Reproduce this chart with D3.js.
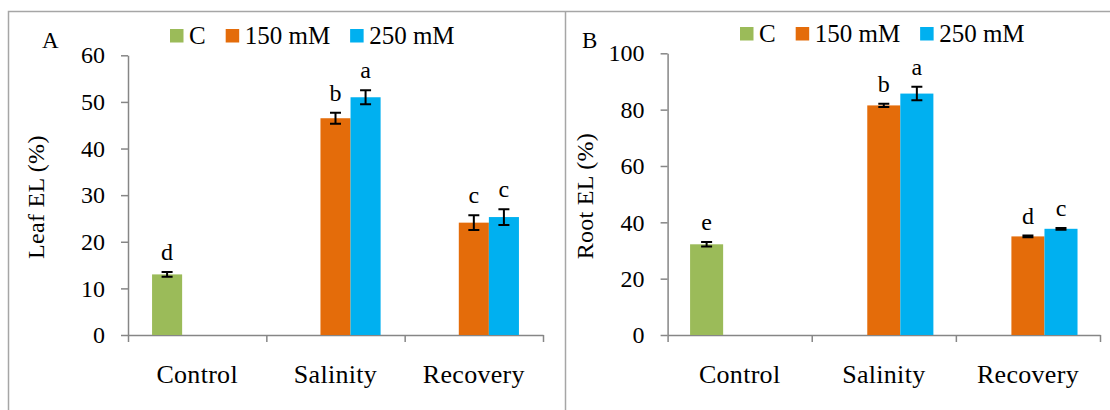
<!DOCTYPE html>
<html>
<head>
<meta charset="utf-8">
<script src="https://d3js.org/d3.v7.min.js"></script>
<style>
    body { margin: 0; background: #fff; }
    svg { display: block; }
    text { font-family: "Liberation Serif", "Times New Roman", serif; fill: #000; }
    .axis path, .axis line { stroke: #868686; stroke-width: 1.5; }
    .axis text { font-size: 24px; }
</style>
</head>
<body>
<div id="chart"></div>
<script>
const categories = ["Control", "Salinity", "Recovery"];
const series = ["C", "150 mM", "250 mM"];
const colors = ["#9BBB59", "#E46C0A", "#00B0F0"];

// rows = categories, columns = series (null = no bar)
const leafValues = [[13.0, null, null], [null, 46.5, 51.0], [null, 24.1, 25.3]];
const leafErrors = [[0.5, null, null], [null, 1.2, 1.5], [null, 1.6, 1.7]];
const leafLetters = [["d", null, null], [null, "b", "a"], [null, "c", "c"]];
const leafTicks = [0, 10, 20, 30, 40, 50, 60];

const rootValues = [[32.2, null, null], [null, 81.5, 85.7], [null, 35.0, 37.7]];
const rootErrors = [[0.8, null, null], [null, 0.6, 2.4], [null, 0.3, 0.3]];
const rootLetters = [["e", null, null], [null, "b", "a"], [null, "d", "c"]];
const rootTicks = [0, 20, 40, 60, 80, 100];

const width = 1110, height = 410;

const svg = d3.select("#chart").append("svg")
    .attr("width", width)
    .attr("height", height);

// panel frames (top line across, left lines)
svg.append("path")
    .attr("d", "M8.5,410 V11.5 H1110 M565.5,11.5 V410")
    .attr("fill", "none")
    .attr("stroke", "#a6a6a6")
    .attr("stroke-width", 1.5);

const panels = [
    { label: "A", title: "Leaf EL (%)", values: leafValues, errors: leafErrors, letters: leafLetters,
      ticks: leafTicks, x0: 128, x1: 543, yTop: 55.3, yBottom: 335, outer: 0.8,
      legendX: 170, legendY: 29, labelX: 42, titleX: 36 },
    { label: "B", title: "Root EL (%)", values: rootValues, errors: rootErrors, letters: rootLetters,
      ticks: rootTicks, x0: 667.6, x1: 1100, yTop: 53.3, yBottom: 335, outer: 0.68,
      legendX: 740, legendY: 27, labelX: 582, titleX: 585 }
];

panels.forEach(p => {
    const g = svg.append("g");

    const x = d3.scaleBand()
        .domain(categories)
        .range([p.x0, p.x1])
        .padding(0);

    const xs = d3.scaleBand()
        .domain(series)
        .range([0, x.bandwidth()])
        .paddingInner(0)
        .paddingOuter(p.outer);

    const y = d3.scaleLinear()
        .domain([0, d3.max(p.ticks)])
        .range([p.yBottom, p.yTop]);

    // boundary ticks on the category axis
    const xEdge = d3.scaleLinear()
        .domain([0, categories.length])
        .range([p.x0, p.x1]);

    g.append("g")
        .attr("class", "axis")
        .attr("transform", `translate(0,${p.yBottom})`)
        .call(d3.axisBottom(xEdge)
            .tickValues(d3.range(categories.length + 1))
            .tickSize(7)
            .tickSizeOuter(0)
            .tickFormat(""));

    // category labels
    g.append("g")
        .attr("class", "axis")
        .attr("transform", `translate(0,${p.yBottom})`)
        .call(d3.axisBottom(x).tickSize(0).tickPadding(30))
        .attr("font-family", null)
        .attr("font-size", null)
        .call(a => a.select(".domain").remove())
        .selectAll("text")
        .style("font-size", "26px")
        .style("letter-spacing", "0.3px");

    g.append("g")
        .attr("class", "axis")
        .attr("transform", `translate(${p.x0},0)`)
        .call(d3.axisLeft(y)
            .tickValues(p.ticks)
            .tickSize(7)
            .tickSizeOuter(0)
            .tickPadding(16))
        .attr("font-family", null)
        .attr("font-size", null);

    // bars
    const cells = [];
    categories.forEach((c, i) => {
        series.forEach((s, j) => {
            if (p.values[i][j] != null) {
                cells.push({ cat: c, ser: s, j: j, v: p.values[i][j], e: p.errors[i][j], letter: p.letters[i][j] });
            }
        });
    });

    g.selectAll("rect.bar")
        .data(cells)
        .enter().append("rect")
        .attr("class", "bar")
        .attr("x", d => x(d.cat) + xs(d.ser))
        .attr("y", d => y(d.v))
        .attr("width", xs.bandwidth())
        .attr("height", d => y(0) - y(d.v))
        .attr("fill", d => colors[d.j]);

    // error bars
    const cx = d => x(d.cat) + xs(d.ser) + xs.bandwidth() / 2;
    const cap = 5.5;
    g.selectAll("path.err")
        .data(cells)
        .enter().append("path")
        .attr("class", "err")
        .attr("d", d => {
            const yl = y(d.v - d.e), yh = y(d.v + d.e), xc = cx(d);
            return `M${xc},${yl}V${yh}M${xc - cap},${yl}H${xc + cap}M${xc - cap},${yh}H${xc + cap}`;
        })
        .attr("fill", "none")
        .attr("stroke", "#000")
        .attr("stroke-width", 2);

    // significance letters
    g.selectAll("text.sig")
        .data(cells)
        .enter().append("text")
        .attr("class", "sig")
        .attr("x", cx)
        .attr("y", d => y(d.v + d.e) - 12)
        .attr("text-anchor", "middle")
        .style("font-size", "24px")
        .text(d => d.letter);

    // axis title
    g.append("text")
        .attr("transform", `translate(${p.titleX},${(p.yTop + p.yBottom) / 2 + 2}) rotate(-90)`)
        .attr("text-anchor", "middle")
        .attr("dy", "0.35em")
        .style("font-size", "24px")
        .style("letter-spacing", "0.3px")
        .text(p.title);

    // panel label
    g.append("text")
        .attr("x", p.labelX)
        .attr("y", 48)
        .style("font-size", "23px")
        .text(p.label);

    // legend
    let lx = p.legendX;
    series.forEach((s, j) => {
        g.append("rect")
            .attr("x", lx)
            .attr("y", p.legendY)
            .attr("width", 13.5)
            .attr("height", 13.5)
            .attr("fill", colors[j]);
        const t = g.append("text")
            .attr("x", lx + 19)
            .attr("y", p.legendY + 15)
            .style("font-size", "25px")
            .text(s);
        lx += 19 + t.node().getComputedTextLength() + 20;
    });
});
</script>
</body>
</html>
